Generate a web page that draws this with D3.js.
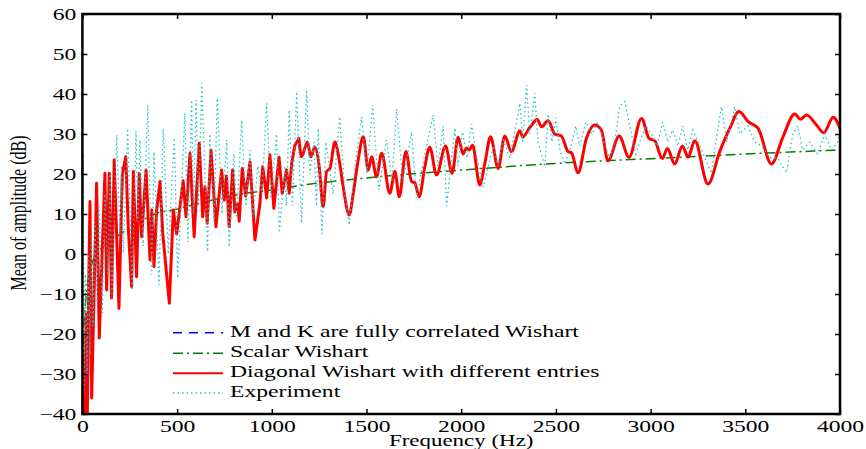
<!DOCTYPE html>
<html>
<head>
<meta charset="utf-8">
<script src="https://cdn.jsdelivr.net/npm/d3@7"></script>
<style>
  html, body { margin: 0; padding: 0; background: #fff; }
  svg { display: block; }
  text { font-family: "Liberation Serif", "Times New Roman", serif; fill: #000; }
</style>
</head>
<body>
<svg id="chart" width="866" height="449"></svg>
<script>
// ---------------- data (frequency in Hz, amplitude in dB) ----------------
const xTicks = [0, 500, 1000, 1500, 2000, 2500, 3000, 3500, 4000];
const yTicks = [-40, -30, -20, -10, 0, 10, 20, 30, 40, 50, 60];

const seriesNames = [
  "M and K are fully correlated Wishart",
  "Scalar Wishart",
  "Diagonal Wishart with different entries",
  "Experiment"
];

// Diagonal Wishart with different entries (red)
const diagonalWishart = [
  [0,-30],[5,-25],[12,-40],[20,-15],[26,-40],[33,-10],[40,13.1],[49,-36],[75,17.7],[89,-21],
  [119,20.2],[128,-9],[142,20.2],[154,-11],[168,23.5],[193,-13.6],[211,20],[229,24.3],[242,6.8],
  [260,-8.2],[269,20.6],[286,-5.7],[300,20.2],[313,4.3],[336,21],[357,-1.5],[366,11],[378,-3.2],
  [392,11],[410,18.1],[424,5.2],[459,-12.3],[480,11],[498,5],[532,18.3],[547,9.3],[568,25.2],
  [590,4.3],[617,27.7],[635,9.3],[647,16.8],[659,7.7],[679,26],[705,6.8],[735,21],[749,13.5],
  [761,19.5],[775,6.8],[793,21],[805,10.5],[820,12.5],[828,8.2],[844,21.4],[862,14.5],[885,23],
  [911,3.5],[937,12.5],[952,21.8],[973,14],[990,24.8],[1011,11.4],[1038,24.2],[1055,15.2],
  [1078,21],[1092,15.2],[1105,22.7],[1122,27.2],[1143,28.9],[1157,24.3],[1188,28],[1206,24.3],
  [1227,26.7],[1250,22],[1271,11.8],[1289,20.6],[1307,21.4],[1333,28],[1356,23.5],[1377,16.8],
  [1409,9.75],[1430,15.2],[1456,23.5],[1483,29.3],[1509,21],[1527,24.3],[1553,19.3],[1580,25.2],
  [1623,15.2],[1650,20.6],[1673,14.3],[1708,25.6],[1738,18.1],[1755,17.8],[1778,14.3],[1808,21.8],
  [1834,26.7],[1870,19.75],[1917,27],[1952,20.2],[1984,29.2],[2010,25],[2028,26.5],[2042,26],
  [2060,27.2],[2098,17.25],[2125,22.7],[2155,29.3],[2195,21.4],[2230,29.5],[2265,25.6],[2310,30.8],
  [2324,29.3],[2363,31.7],[2380,32.7],[2401,33.7],[2424,31.8],[2459,33.4],[2494,30],[2529,29.5],
  [2564,25.6],[2582,25.3],[2617,20.3],[2661,28.9],[2705,32.25],[2740,31],[2775,23.3],[2834,29.5],
  [2886,24.2],[2952,33.9],[2992,28.9],[3022,28.3],[3062,23.9],[3089,26.4],[3127,22.5],[3168,27],
  [3198,24.2],[3233,28.3],[3303,17.5],[3365,25.6],[3418,31.4],[3467,35.6],[3515,33.1],[3568,31.4],
  [3638,22.5],[3699,29.3],[3761,35],[3791,33.7],[3823,34.75],[3876,32.25],[3914,30.3],[3964,34.2],
  [4000,31.4]
];

// M and K fully correlated Wishart (blue) - lies under the red curve
const fullyCorrelated = diagonalWishart.map(d => [d[0], d[1]]);

// Scalar Wishart (green)
const scalarWishart = [
  [0,-38],[3,-28],[10,-18],[23,-9],[58,-1.5],[100,1.5],[150,3.2],[216,5.5],[300,8],[392,10.2],
  [480,11],[600,12.5],[867,15.2],[1000,16],[1131,17],[1500,19],[1782,20.2],[2000,21],
  [2451,22.5],[3207,24.3],[3500,25],[4000,26]
];

// Experiment (cyan dotted)
const experiment = [
  [0,-40],[4,25],[8,-35],[16,-5],[24,-30],[32,0],[40,-25],[48,5],[56,-18],[66,8],[77,-12],[88,12],
  [105,-14.8],[119,15],[135,-5],[146,20],[155,-11],[181,29.75],[198,5],[206,22],[216,0.2],[239,31.4],
  [263,-9],[283,30.8],[293,8],[304,28.5],[320,2],[345,37.25],[366,-5.25],[378,25.5],[404,-7.75],
  [427,31.4],[453,0],[485,29],[503,-6],[541,35.2],[557,3],[577,38.5],[586,10],[600,38.5],[613,12],
  [630,42.7],[661,0.6],[673,30],[695,8],[712,38.9],[737,10],[762,28.5],[775,1.75],[800,25],[814,9],
  [841,33.5],[863,12],[885,26],[899,9],[927,22],[948,15],[973,37.7],[995,14],[1025,30],[1040,5.3],
  [1069,22],[1077,12],[1092,36],[1109,12],[1131,40.6],[1157,7.7],[1184,41],[1201,20],[1222,28],
  [1236,12],[1245,31.4],[1265,5],[1286,28],[1323,15],[1359,34.3],[1386,15],[1409,7.25],[1439,22],
  [1474,34.3],[1502,20],[1532,37.25],[1565,16],[1606,28.5],[1634,18],[1659,36.2],[1692,18],
  [1738,30.5],[1764,14],[1808,25],[1852,34.75],[1877,22],[1905,32],[1923,12],[1951,25],[1967,31.5],
  [1982,22],[2007,30.5],[2030,24],[2055,32.5],[2083,24],[2116,16.8],[2169,27],[2194,22],[2221,28.5],
  [2257,24],[2310,37.7],[2325,28],[2345,42.25],[2362,30],[2389,40.2],[2405,28],[2442,21.8],[2459,35],
  [2479,28],[2500,34],[2521,26],[2547,22.5],[2574,26],[2605,32],[2626,27],[2658,33],[2690,30],
  [2721,33],[2753,28],[2784,24],[2811,28],[2837,37],[2864,38.1],[2890,32],[2922,25],[2943,28],
  [2975,32],[3006,30],[3033,27],[3064,33],[3091,28],[3117,31],[3144,27],[3170,32],[3196,26],
  [3223,31],[3260,27],[3286,24],[3321,20.2],[3344,28],[3374,36.8],[3402,28],[3444,36.8],[3471,30],
  [3513,32],[3550,28],[3587,27],[3629,24],[3671,24],[3717,20.3],[3751,30],[3777,32],[3803,26],
  [3840,28],[3882,25],[3919,30],[3956,26],[3988,28],[4000,30]
];

// ---------------- drawing ----------------
const mLeft = 82.4, mRight = 840, mTop = 14, mBottom = 414;
const SX = 1.39;      // horizontal stretch of the text in the reference
const SPLIT = 1143;   // below this the model curves are jagged, above smooth

const svg = d3.select("#chart");
const x = d3.scaleLinear().domain([0, 4000]).range([mLeft, mRight]);
const y = d3.scaleLinear().domain([-40, 60]).range([mBottom, mTop]);

svg.append("defs").append("clipPath").attr("id", "plotclip")
  .append("rect").attr("x", mLeft).attr("y", mTop)
  .attr("width", mRight - mLeft).attr("height", mBottom - mTop);

const plot = svg.append("g").attr("clip-path", "url(#plotclip)");

const smooth = d3.line().x(d => x(d[0])).y(d => y(d[1])).curve(d3.curveMonotoneX);
const straight = d3.line().x(d => x(d[0])).y(d => y(d[1]));
const mixed = data => straight(data.filter(d => d[0] <= SPLIT)) +
  smooth(data.filter(d => d[0] >= SPLIT)).replace(/^M/, "L");

const styles = [
  { color: "#0000ff", width: 1.5, dash: "9,7" },
  { color: "#008000", width: 1.5, dash: "10,4,2,4" },
  { color: "#ff0000", width: 3, dash: null },
  { color: "#20c4c4", width: 1.3, dash: "1.5,3" }
];

plot.append("path").attr("d", mixed(fullyCorrelated))
  .attr("fill", "none").attr("stroke", styles[0].color).attr("stroke-width", styles[0].width)
  .attr("stroke-dasharray", styles[0].dash);
plot.append("path").datum(scalarWishart).attr("d", smooth)
  .attr("fill", "none").attr("stroke", styles[1].color).attr("stroke-width", styles[1].width)
  .attr("stroke-dasharray", styles[1].dash);
plot.append("path").attr("d", mixed(diagonalWishart))
  .attr("fill", "none").attr("stroke", styles[2].color).attr("stroke-width", styles[2].width)
  .attr("stroke-linejoin", "round");
plot.append("path").datum(experiment).attr("d", straight)
  .attr("fill", "none").attr("stroke", styles[3].color).attr("stroke-width", styles[3].width)
  .attr("stroke-dasharray", styles[3].dash);

// axes
const fmt = d3.format("d");
const gx = svg.append("g").attr("transform", `translate(0,${mBottom})`)
  .call(d3.axisBottom(x).tickValues(xTicks).tickFormat(fmt).tickSizeInner(-5).tickSizeOuter(0).tickPadding(6));
const gy = svg.append("g").attr("transform", `translate(${mLeft},0)`)
  .call(d3.axisLeft(y).tickValues(yTicks).tickFormat(fmt).tickSizeInner(-5).tickSizeOuter(0).tickPadding(6));
const gt = svg.append("g").attr("transform", `translate(0,${mTop})`)
  .call(d3.axisTop(x).tickValues(xTicks).tickFormat("").tickSizeInner(-5).tickSizeOuter(0));
const gr = svg.append("g").attr("transform", `translate(${mRight},0)`)
  .call(d3.axisRight(y).tickValues(yTicks).tickFormat("").tickSizeInner(-5).tickSizeOuter(0));

[gx, gy, gt, gr].forEach(g => {
  g.select(".domain").remove();
  g.selectAll(".tick line").attr("stroke", "#000").attr("stroke-width", 1.5);
  g.selectAll(".tick text").attr("font-family", "Liberation Serif").attr("font-size", 17).attr("fill", "#000");
});
gy.selectAll(".tick text").attr("x", -6 / SX).attr("transform", `scale(${SX},1)`);
gx.selectAll(".tick text").attr("transform", `scale(${SX},1)`);

// frame
svg.append("rect").attr("x", mLeft).attr("y", mTop)
  .attr("width", mRight - mLeft).attr("height", mBottom - mTop)
  .attr("fill", "none").attr("stroke", "#000").attr("stroke-width", 2.5);

// axis labels
svg.append("text")
  .attr("transform", `translate(${(mLeft + mRight) / 2},446) scale(${SX},1)`)
  .attr("text-anchor", "middle").attr("font-size", 16.5)
  .text("Frequency (Hz)");
svg.append("text")
  .attr("transform", `translate(26,213) scale(${SX},1) rotate(-90)`)
  .attr("text-anchor", "middle").attr("font-size", 16)
  .text("Mean of amplitude (dB)");

// legend
const legendRows = [332.7, 353.3, 373.3, 393];
const legend = svg.append("g");
seriesNames.forEach((name, i) => {
  const st = styles[i];
  legend.append("line")
    .attr("x1", 173).attr("x2", 223).attr("y1", legendRows[i]).attr("y2", legendRows[i])
    .attr("stroke", st.color).attr("stroke-width", i === 2 ? 2 : st.width)
    .attr("stroke-dasharray", st.dash);
  legend.append("text")
    .attr("transform", `translate(230,${legendRows[i] + 4}) scale(${SX},1)`)
    .attr("font-size", 17)
    .text(name);
});
</script>
</body>
</html>
